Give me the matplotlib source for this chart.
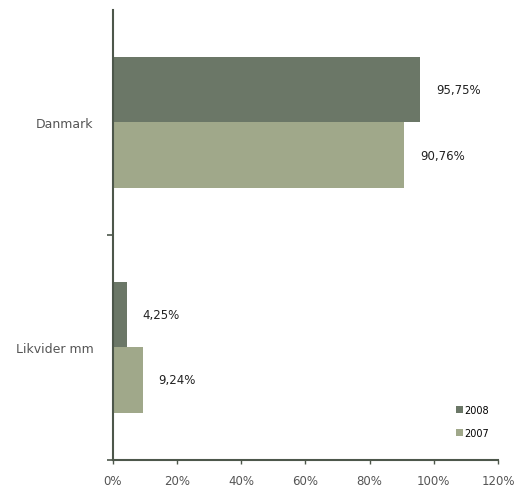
import numpy as np
import matplotlib.pyplot as plt
from matplotlib.ticker import FixedLocator

categories = ['Likvider mm', 'Danmark']
years = ['2008', '2007']
vals_2008 = [4.25, 95.75]
vals_2007 = [9.24, 90.76]
labels_2008 = ['4,25%', '95,75%']
labels_2007 = ['9,24%', '90,76%']
xticks = [0, 20, 40, 60, 80, 100, 120]

c2008 = '#6b7767'
c2007 = '#a0a88a'
axcol = '#4d574b'

fig = plt.figure(figsize=(5.14, 4.89), dpi=100)
ax = fig.add_axes([0.2198, 0.0573, 0.749, 0.9202])

y = np.arange(len(categories))
h = 0.289
b1 = ax.barh(y + h / 2, vals_2008, height=h, color=c2008, label=years[0])
b2 = ax.barh(y - h / 2, vals_2007, height=h, color=c2007, label=years[1])

for bars, labs in ((b1, labels_2008), (b2, labels_2007)):
    for r, t in zip(bars, labs):
        ax.annotate(t, (r.get_width(), r.get_y() + r.get_height() / 2),
                    xytext=(11.5, 0), textcoords='offset points',
                    ha='left', va='center', fontsize=8.5, color='#222222')

ax.set_xlim(0, 120)
ax.set_ylim(-0.5, 1.5)
ax.set_xticks(xticks)
ax.set_xticklabels([f'{v}%' for v in xticks])
ax.set_yticks(y)
ax.set_yticklabels(categories)
ax.yaxis.set_minor_locator(FixedLocator([-0.5, 0.5]))

for s in ('top', 'right'):
    ax.spines[s].set_visible(False)
for s in ('left', 'bottom'):
    ax.spines[s].set_color(axcol)
    ax.spines[s].set_linewidth(1.5)

ax.tick_params(axis='y', which='major', length=0, pad=14, labelsize=9, labelcolor='#555555')
ax.tick_params(axis='y', which='minor', length=4, width=1.2, color=axcol, direction='out')
ax.tick_params(axis='x', length=3, width=1, color=axcol, direction='out', pad=7,
               labelsize=8.5, labelcolor='#555555')

ax.legend(loc='lower right', bbox_to_anchor=(1.0, 0.03), frameon=False, fontsize=7,
          handlelength=0.7, handleheight=0.7, handletextpad=0.2, labelspacing=1.3)

fig.savefig('out.png', dpi=100)
